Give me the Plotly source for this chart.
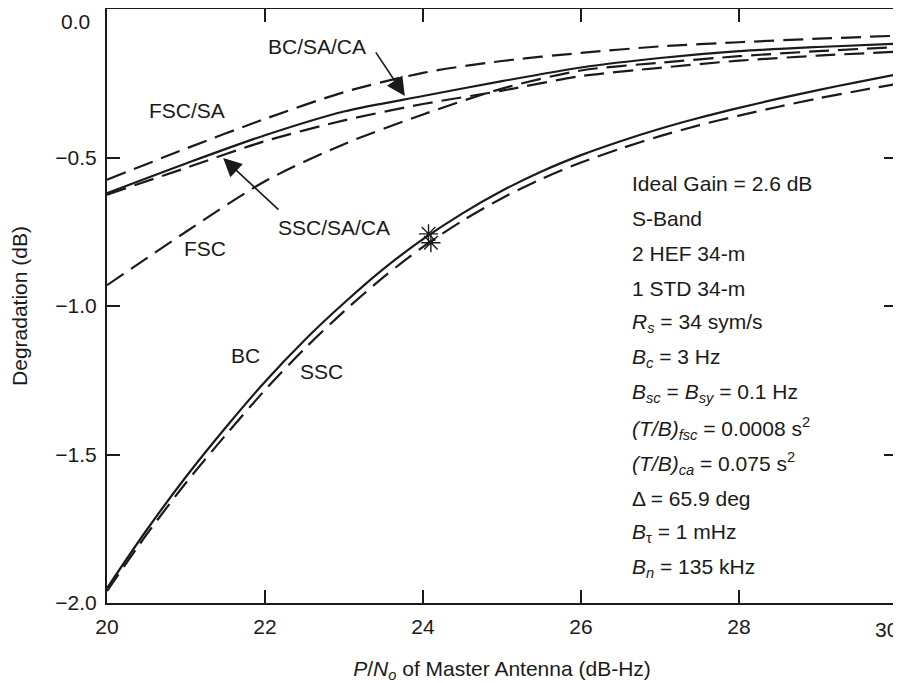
import plotly.graph_objects as go

# ---- data ----
x_top = [20, 21, 22, 23, 24, 25, 26, 27, 28, 29, 30]
fsc_sa = [-0.575, -0.47, -0.37, -0.28, -0.215, -0.175, -0.148, -0.126, -0.112, -0.10, -0.09]
bc_sa_ca = [-0.62, -0.52, -0.425, -0.345, -0.293, -0.243, -0.197, -0.165, -0.142, -0.128, -0.117]
ssc_sa_ca = [-0.625, -0.535, -0.445, -0.375, -0.32, -0.275, -0.226, -0.198, -0.174, -0.157, -0.144]
fsc = [-0.93, -0.75, -0.58, -0.455, -0.355, -0.268, -0.207, -0.181, -0.159, -0.142, -0.128]

x_low = [20, 20.5, 21, 21.5, 22, 22.5, 23, 23.5, 24, 24.5, 25, 25.5, 26, 26.5, 27, 27.5, 28, 28.5, 29, 29.5, 30]
bc = [-1.95, -1.755, -1.575, -1.41, -1.255, -1.115, -0.99, -0.875, -0.775, -0.688, -0.612, -0.547, -0.492,
      -0.445, -0.403, -0.366, -0.333, -0.302, -0.273, -0.246, -0.22]
ssc = [-1.96, -1.77, -1.595, -1.435, -1.283, -1.144, -1.018, -0.903, -0.801, -0.713, -0.637, -0.572, -0.517,
       -0.47, -0.428, -0.391, -0.359, -0.329, -0.301, -0.276, -0.252]

star_x = [24.07, 24.1]
star_y = [-0.757, -0.787]

x_ticks = [20, 22, 24, 26, 28, 30]
x_ticklabels = ["20", "22", "24", "26", "28", "30"]
y_ticks = [0.0, -0.5, -1.0, -1.5, -2.0]
y_ticklabels = ["0.0", "\u22120.5", "\u22121.0", "\u22121.5", "\u22122.0"]

params = [
    "Ideal Gain = 2.6 dB",
    "S-Band",
    "2 HEF 34-m",
    "1 STD 34-m",
    "<i>R<sub>s</sub></i> = 34 sym/s",
    "<i>B<sub>c</sub></i> = 3 Hz",
    "<i>B<sub>sc</sub></i> = <i>B<sub>sy</sub></i> = 0.1 Hz",
    "<i>(T/B)<sub>fsc</sub></i> = 0.0008 s<sup>2</sup>",
    "<i>(T/B)<sub>ca</sub></i> = 0.075 s<sup>2</sup>",
    "\u0394 = 65.9 deg",
    "<i>B</i><sub>\u03c4</sub> = 1 mHz",
    "<i>B<sub>n</sub></i> = 135 kHz",
]

FONT = "Liberation Sans, Arial, sans-serif"
FS = 21
INK = "#1a1a1a"
DASH = "20px,9px"

# page body has an 8px default margin, so the figure is sized to fit the window
W, H = 893, 676
ML, MR, MT, MB = 99, 4, 1, 81
PW = W - ML - MR
PH = H - MT - MB

fig = go.Figure()
series = [
    (x_top, fsc_sa, DASH),
    (x_top, bc_sa_ca, "solid"),
    (x_top, ssc_sa_ca, DASH),
    (x_top, fsc, DASH),
    (x_low, bc, "solid"),
    (x_low, ssc, DASH),
]
for xs, ys, d in series:
    fig.add_trace(go.Scatter(x=xs, y=ys, mode="lines",
                             line=dict(color=INK, width=2.2, dash=d, shape="spline", smoothing=0.8),
                             hoverinfo="skip", showlegend=False))

fig.add_trace(go.Scatter(x=star_x, y=star_y, mode="markers",
                         marker=dict(symbol="asterisk-open", size=16, color=INK,
                                     line=dict(color=INK, width=1.4)),
                         showlegend=False, hoverinfo="skip"))

annos = []
labels = [
    ("BC/SA/CA", 22.66, -0.125),
    ("FSC/SA", 21.01, -0.343),
    ("SSC/SA/CA", 22.87, -0.737),
    ("FSC", 21.24, -0.808),
    ("BC", 21.75, -1.168),
    ("SSC", 22.72, -1.219),
]
for t, x, y in labels:
    annos.append(dict(text=t, x=x, y=y, xref="x", yref="y", showarrow=False,
                      font=dict(family=FONT, size=FS, color=INK)))

# arrows
annos.append(dict(text="", x=23.77, y=-0.293, ax=23.39, ay=-0.141, xref="x", yref="y",
                  axref="x", ayref="y", showarrow=True, arrowhead=2, arrowsize=2.3,
                  arrowwidth=1.6, arrowcolor=INK))
annos.append(dict(text="", x=21.47, y=-0.502, ax=22.19, ay=-0.68, xref="x", yref="y",
                  axref="x", ayref="y", showarrow=True, arrowhead=2, arrowsize=2.3,
                  arrowwidth=1.6, arrowcolor=INK))

for i, t in enumerate(params):
    py = 182 + 35 * i
    yv = -(py - 8) / 297.0
    annos.append(dict(text=t, x=26.62, y=yv, xref="x", yref="y", xanchor="left",
                      showarrow=False, font=dict(family=FONT, size=FS, color=INK)))

# end tick labels placed so they stay inside the picture
annos.append(dict(text=x_ticklabels[-1], x=1.0 + 3.0 / PW, xref="paper", xanchor="right",
                  y=-26.0 / PH, yref="paper", yanchor="middle", showarrow=False,
                  font=dict(family=FONT, size=FS, color=INK)))
annos.append(dict(text=y_ticklabels[0], x=-15.0 / PW, xref="paper", xanchor="right",
                  y=1 + MT / PH, yref="paper", yanchor="top", showarrow=False,
                  font=dict(family=FONT, size=FS, color=INK)))

axis_common = dict(ticks="inside", ticklen=13, tickwidth=1.5, tickcolor=INK,
                   showline=True, linecolor=INK, linewidth=2, mirror="ticks",
                   showgrid=False, zeroline=False, automargin=False,
                   ticklabeloverflow="allow",
                   tickfont=dict(size=FS, family=FONT, color=INK))

fig.update_layout(
    width=W, height=H,
    margin=dict(l=ML, r=MR, t=MT, b=MB),
    paper_bgcolor="white", plot_bgcolor="white",
    font=dict(family=FONT, size=FS, color=INK),
    annotations=annos,
    xaxis=dict(range=[20, 30], tickvals=x_ticks, ticktext=x_ticklabels[:-1] + [""],
               ticklabelstandoff=4,
               title=dict(text="<i>P</i>/<i>N<sub>o</sub></i> of Master Antenna (dB-Hz)",
                          font=dict(size=FS), standoff=24),
               **axis_common),
    yaxis=dict(range=[-2.0, 0.0], tickvals=y_ticks, ticktext=[""] + y_ticklabels[1:],
               ticklabelstandoff=4,
               title=dict(text="Degradation (dB)", font=dict(size=FS), standoff=25),
               **axis_common),
)

fig.write_html("out.html")
